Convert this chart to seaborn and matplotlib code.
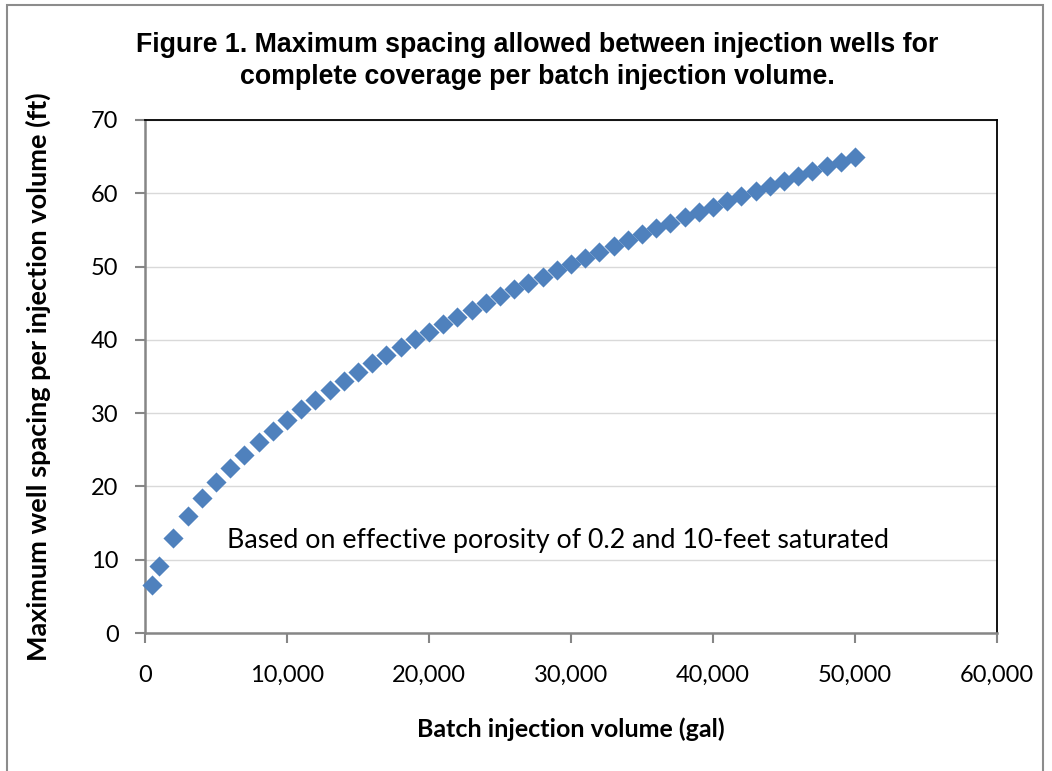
import matplotlib
matplotlib.use("Agg")
import matplotlib.pyplot as plt
import seaborn as sns
import pandas as pd
from matplotlib.patches import Rectangle
from matplotlib.ticker import FuncFormatter

batch_volume_gal = [500, 1000, 2000, 3000, 4000, 5000, 6000, 7000, 8000, 9000,
                    10000, 11000, 12000, 13000, 14000, 15000, 16000, 17000, 18000, 19000,
                    20000, 21000, 22000, 23000, 24000, 25000, 26000, 27000, 28000, 29000,
                    30000, 31000, 32000, 33000, 34000, 35000, 36000, 37000, 38000, 39000,
                    40000, 41000, 42000, 43000, 44000, 45000, 46000, 47000, 48000, 49000,
                    50000]
max_spacing_ft = [6.5, 9.2, 13.0, 15.9, 18.4, 20.6, 22.5, 24.3, 26.0, 27.6,
                  29.1, 30.5, 31.8, 33.1, 34.4, 35.6, 36.8, 37.9, 39.0, 40.1,
                  41.1, 42.1, 43.1, 44.1, 45.0, 46.0, 46.9, 47.8, 48.6, 49.5,
                  50.4, 51.2, 52.0, 52.8, 53.6, 54.4, 55.2, 55.9, 56.7, 57.4,
                  58.1, 58.9, 59.6, 60.3, 61.0, 61.7, 62.3, 63.0, 63.7, 64.3,
                  65.0]
x_ticks = [0, 10000, 20000, 30000, 40000, 50000, 60000]
y_ticks = [0, 10, 20, 30, 40, 50, 60, 70]

title_text = "Figure 1. Maximum spacing allowed between injection wells for\ncomplete coverage per batch injection volume."
xlabel_text = "Batch injection volume (gal)"
ylabel_text = "Maximum well spacing per injection volume (ft)"
note_text = "Based on effective porosity of 0.2 and 10-feet saturated"

df = pd.DataFrame({"x": batch_volume_gal, "y": max_spacing_ft})

sns.set_theme(style="white")
plt.rcParams["font.family"] = ["Lato", "DejaVu Sans"]

W, H = 1052, 771
fig = plt.figure(figsize=(W / 100, H / 100), dpi=100)
fig.patch.set_facecolor("white")

# outer chart border
fig.add_artist(Rectangle((7 / W, -0.05), (1043 - 7) / W, 1.05 - 5 / H,
                         transform=fig.transFigure, fill=False,
                         edgecolor="#8c8c8c", linewidth=1.5))

left, right, top, bottom = 145, 997, 120, 633
ax = fig.add_axes([left / W, 1 - bottom / H, (right - left) / W, (bottom - top) / H])

sns.scatterplot(data=df, x="x", y="y", marker="D", s=105, color="#4F81BD",
                linewidth=0, ax=ax, zorder=3, clip_on=False)

ax.set_xlim(0, 60000)
ax.set_ylim(0, 70)
ax.set_xticks(x_ticks)
ax.set_yticks(y_ticks)
ax.xaxis.set_major_formatter(FuncFormatter(lambda v, p: f"{int(v):,}"))
ax.yaxis.grid(True, color="#d9d9d9", linewidth=1)
ax.xaxis.grid(False)
ax.set_axisbelow(True)

for s in ["top", "right"]:
    ax.spines[s].set_color("black")
    ax.spines[s].set_linewidth(1.3)
for s in ["left", "bottom"]:
    ax.spines[s].set_color("#868686")
    ax.spines[s].set_linewidth(1.8)

ax.tick_params(axis="both", which="major", direction="out", length=7, width=1.5,
               color="#868686", labelsize=17, labelcolor="black",
               left=True, bottom=True)
ax.tick_params(axis="x", pad=16)
ax.tick_params(axis="y", pad=12)

ax.set_xlabel(xlabel_text, fontsize=18, fontweight="bold", labelpad=23, color="black")
ax.set_ylabel(ylabel_text, fontsize=19.5, fontweight="bold", labelpad=29, color="black")

fig.text(537 / W, 1 - 60.5 / H, title_text, ha="center", va="center",
         fontsize=19.3, fontweight="bold", family=["Liberation Sans", "DejaVu Sans"],
         linespacing=1.3, color="black")

ax.text(5800, 11.6, note_text, fontsize=19.3, color="black", ha="left", va="baseline")

fig.savefig("out.png", dpi=100, facecolor="white")
